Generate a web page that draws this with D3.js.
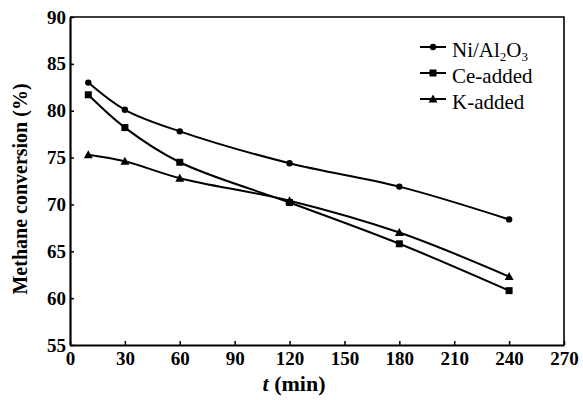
<!DOCTYPE html>
<html>
<head>
<meta charset="utf-8">
<script src="https://cdn.jsdelivr.net/npm/d3@7"></script>
<style>
  body { margin: 0; background: #fff; }
</style>
</head>
<body>
<svg id="chart" width="583" height="400"></svg>
<script>
// Data //
const times = [10, 30, 60, 120, 180, 240]
const niAl2O3 = [83.0, 80.1, 77.8, 74.4, 71.9, 68.4]
const ceAdded = [81.7, 78.2, 74.5, 70.2, 65.8, 60.8]
const kAdded = [75.3, 74.6, 72.8, 70.4, 67.0, 62.3]
const xTicks = [0, 30, 60, 90, 120, 150, 180, 210, 240, 270]
const yTicks = [55, 60, 65, 70, 75, 80, 85, 90]

const series = [
    { name: 'Ni/Al2O3', values: niAl2O3, marker: 'circle' },
    { name: 'Ce-added', values: ceAdded, marker: 'square' },
    { name: 'K-added', values: kAdded, marker: 'triangle' },
]

const SERIF = "'Liberation Serif', 'Times New Roman', serif"

// Layout //
const margin = { left: 70, top: 17, right: 19, bottom: 55 }
const width = 583, height = 400
const svg = d3.select('#chart')

const x = d3.scaleLinear().domain([0, 270]).range([margin.left, width - margin.right])
const y = d3.scaleLinear().domain([55, 90]).range([height - margin.bottom, margin.top])

const styleAxis = g => {
    g.attr('font-family', null).attr('font-size', null)
    g.select('.domain').attr('stroke-width', 2.2)
    g.selectAll('.tick line').attr('stroke-width', 1.5)
    g.selectAll('.tick text')
        .style('font-family', SERIF)
        .style('font-size', '19px')
        .style('font-weight', 'bold')
}

// Axes //
svg.append('g')
    .attr('transform', `translate(0,${y(55)})`)
    .call(d3.axisBottom(x).tickValues(xTicks).tickSizeInner(-4).tickSizeOuter(0).tickPadding(7))
    .call(styleAxis)

svg.append('g')
    .attr('transform', `translate(${x(0)},0)`)
    .call(d3.axisLeft(y).tickValues(yTicks).tickSizeInner(-4).tickSizeOuter(0).tickPadding(4))
    .call(styleAxis)

// frame top and right
svg.append('path')
    .attr('d', `M${x(0)},${y(90)}H${x(270)}V${y(55)}`)
    .attr('fill', 'none')
    .attr('stroke', '#000')
    .attr('stroke-width', 1.6)

// Titles //
svg.append('text')
    .attr('transform', `translate(27,189) rotate(-90)`)
    .attr('text-anchor', 'middle')
    .style('font-family', SERIF)
    .style('font-size', '20px')
    .style('font-weight', 'bold')
    .text('Methane conversion (%)')

const xTitle = svg.append('text')
    .attr('x', 294)
    .attr('y', 391)
    .attr('text-anchor', 'middle')
    .style('font-family', SERIF)
    .style('font-size', '22px')
    .style('font-weight', 'bold')
xTitle.append('tspan').style('font-style', 'italic').text('t')
xTitle.append('tspan').text(' (min)')

// Markers //
const drawMarker = (g, type, cx, cy) => {
    if (type === 'circle') {
        g.append('circle').attr('cx', cx).attr('cy', cy).attr('r', 3.2).attr('fill', '#000')
    } else if (type === 'square') {
        g.append('rect').attr('x', cx - 3.5).attr('y', cy - 3.5).attr('width', 7).attr('height', 7).attr('fill', '#000')
    } else {
        g.append('path')
            .attr('d', `M${cx},${cy - 4.5}L${cx + 4.5},${cy + 3.5}L${cx - 4.5},${cy + 3.5}Z`)
            .attr('fill', '#000')
    }
}

// Lines //
const line = d3.line()
    .x((d, i) => x(times[i]))
    .y(d => y(d))
    .curve(d3.curveCatmullRom.alpha(0.5))

series.forEach(s => {
    const g = svg.append('g')
    g.append('path')
        .attr('d', line(s.values))
        .attr('fill', 'none')
        .attr('stroke', '#000')
        .attr('stroke-width', 2)
    s.values.forEach((v, i) => drawMarker(g, s.marker, x(times[i]), y(v)))
})

// Legend //
const legend = svg.append('g').attr('transform', 'translate(420,47)')
series.forEach((s, i) => {
    const row = legend.append('g').attr('transform', `translate(0,${i * 26})`)
    row.append('line').attr('x1', 0).attr('x2', 26).attr('stroke', '#000').attr('stroke-width', 2)
    drawMarker(row, s.marker, 13, 0)
    const t = row.append('text').attr('x', 32).attr('y', 10)
        .style('font-family', SERIF)
        .style('font-size', '21px')
    if (s.name === 'Ni/Al2O3') {
        t.append('tspan').text('Ni/Al')
        t.append('tspan').style('font-size', '13px').attr('dy', 4).text('2')
        t.append('tspan').attr('dy', -4).text('O')
        t.append('tspan').style('font-size', '13px').attr('dy', 4).text('3')
    } else {
        t.text(s.name)
    }
})
</script>
</body>
</html>
